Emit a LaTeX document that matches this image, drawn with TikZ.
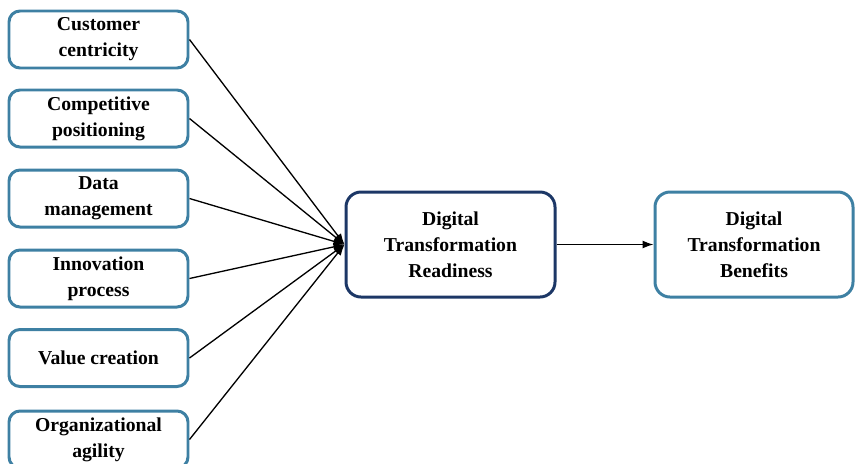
\documentclass[tikz,border=0pt]{standalone}
\usepackage{fontspec}
\setmainfont{Liberation Serif}
\usepackage{xcolor}
\usepackage{tikz}
\usetikzlibrary{positioning, arrows.meta}

\definecolor{boxblue}{RGB}{62,128,163}
\definecolor{boxnavy}{RGB}{28,55,102}

\begin{document}
\begin{tikzpicture}[
    line width=0.75pt,
    factor/.style={draw=boxblue, line width=1.7pt, rounded corners=0.22cm, minimum width=3.58cm, minimum height=1.14cm, inner sep=1pt, align=center, font=\fontsize{11.2}{14.7}\selectfont\bfseries},
    central/.style={draw=boxnavy, line width=1.7pt, rounded corners=0.3cm, minimum width=4.18cm, minimum height=2.1cm, align=center, font=\fontsize{11.2}{14.7}\selectfont\bfseries},
    outcome/.style={central, draw=boxblue, minimum width=3.96cm},
    link/.style={-{Latex[length=2.2mm, width=1.6mm]}}
]
    \useasboundingbox (0,0) rectangle (17.1,-9.26);

    % Fatores
    \node[factor] (f1) at (1.97,-0.79) {Customer\\centricity};
    \node[factor] (f2) at (1.97,-2.37) {Competitive\\positioning};
    \node[factor] (f3) at (1.97,-3.97) {Data\\management};
    \node[factor] (f4) at (1.97,-5.57) {Innovation\\process};
    \node[factor] (f5) at (1.97,-7.16) {Value creation};
    \node[factor] (f6) at (1.97,-8.79) {Organizational\\agility};

    % Prontidao e beneficios
    \node[central] (ready) at (9.01,-4.89) {Digital\\Transformation\\Readiness};
    \node[outcome] (benefit) at (15.08,-4.89) {Digital\\Transformation\\Benefits};

    \foreach \i in {1,...,6}
        \draw[link] (f\i.east) -- (ready.west);
    \draw[link] (ready.east) -- (benefit.west);

\end{tikzpicture}
\end{document}
